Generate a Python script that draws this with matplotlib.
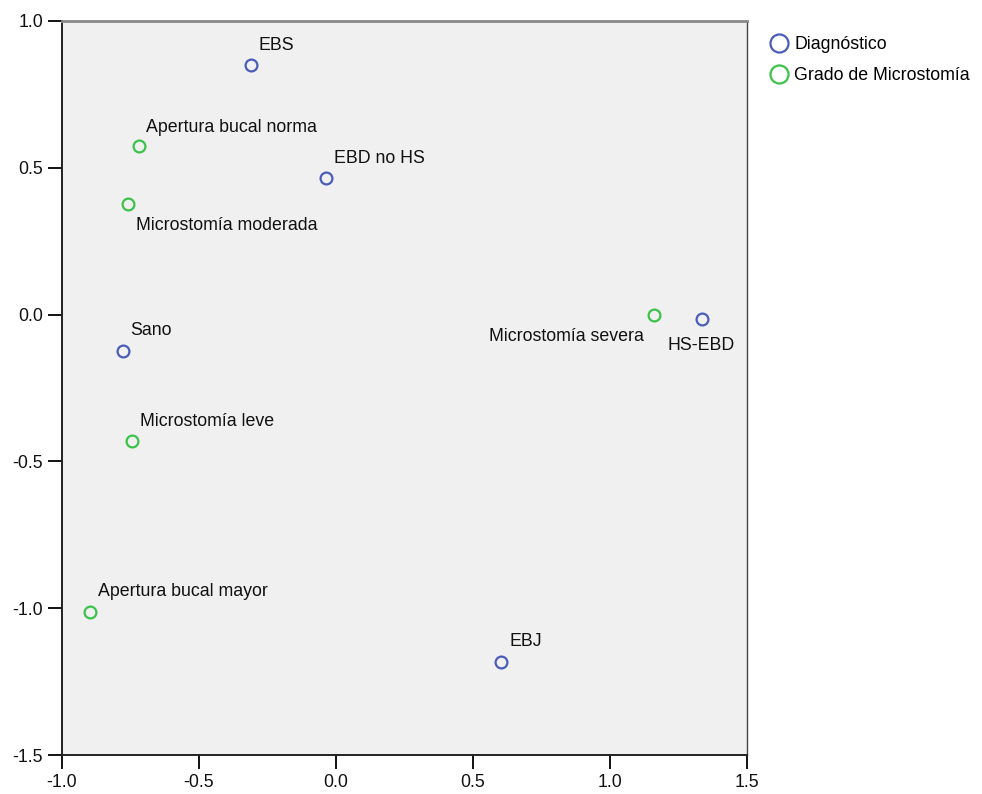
import matplotlib
matplotlib.use("Agg")
import matplotlib.pyplot as plt
from matplotlib.lines import Line2D

plt.rcParams['font.family'] = ['Liberation Sans', 'DejaVu Sans']

# Diagnóstico
diag_labels = ["EBS", "EBD no HS", "Sano", "EBJ", "HS-EBD"]
diag_x = [-0.310, -0.036, -0.777, 0.602, 1.336]
diag_y = [0.850, 0.465, -0.124, -1.183, -0.015]

# Grado de Microstomía
micro_labels = ["Apertura bucal norma", "Microstomía moderada", "Microstomía leve",
                "Apertura bucal mayor", "Microstomía severa"]
micro_x = [-0.719, -0.759, -0.745, -0.898, 1.161]
micro_y = [0.574, 0.377, -0.431, -1.013, -0.001]

# label offsets in pixels (dx, dy up) and alignment
offsets = {
    "EBS": (7, 20, 'left'),
    "EBD no HS": (8, 20, 'left'),
    "Sano": (7, 20, 'left'),
    "EBJ": (9, 20, 'left'),
    "HS-EBD": (-1, -27, 'center'),
    "Apertura bucal norma": (7, 19, 'left'),
    "Microstomía moderada": (8, -22, 'left'),
    "Microstomía leve": (8, 20, 'left'),
    "Apertura bucal mayor": (8, 21, 'left'),
    "Microstomía severa": (-10, -22, 'right'),
}

blue = '#4a5cb8'
green = '#3cc24a'
fs = 12.8

fig = plt.figure(figsize=(9.82, 7.94), dpi=100)
ax = fig.add_axes([0.0631, 0.0491, 0.6976, 0.9245])
ax.set_facecolor('#f0f0f0')

ax.plot(diag_x, diag_y, 'o', ls='none', mfc='none', mec=blue, ms=8.5, mew=1.6)
ax.plot(micro_x, micro_y, 'o', ls='none', mfc='none', mec=green, ms=8.5, mew=1.6)

for lab, x, y in list(zip(diag_labels, diag_x, diag_y)) + list(zip(micro_labels, micro_x, micro_y)):
    dx, dy, ha = offsets[lab]
    ax.annotate(lab, (x, y), xytext=(dx * 0.72, dy * 0.72), textcoords='offset points',
                ha=ha, va='center', fontsize=fs, color='#111111')

ax.set_xlim(-1.0, 1.5)
ax.set_ylim(-1.5, 1.0)
ax.set_xticks([-1.0, -0.5, 0.0, 0.5, 1.0, 1.5])
ax.set_yticks([-1.5, -1.0, -0.5, 0.0, 0.5, 1.0])
ax.set_xticklabels(['-1.0', '-0.5', '0.0', '0.5', '1.0', '1.5'])
ax.set_yticklabels(['-1.5', '-1.0', '-0.5', '0.0', '0.5', '1.0'])
ax.tick_params(direction='out', length=10, width=1.4, labelsize=fs, colors='#111111', pad=3.5)

ax.spines['left'].set_color('#222222')
ax.spines['left'].set_linewidth(1.4)
ax.spines['bottom'].set_color('#222222')
ax.spines['bottom'].set_linewidth(1.4)
ax.spines['top'].set_color('#888888')
ax.spines['top'].set_linewidth(2)
ax.spines['right'].set_color('#444444')
ax.spines['right'].set_linewidth(1)

handles = [
    Line2D([], [], marker='o', ls='none', mfc='none', mec=blue, ms=13, mew=1.6, label='Diagnóstico'),
    Line2D([], [], marker='o', ls='none', mfc='none', mec=green, ms=13, mew=1.6, label='Grado de Microstomía'),
]
fig.legend(handles=handles, loc='upper left', bbox_to_anchor=(0.777, 0.963), frameon=False,
           fontsize=fs, handlelength=1.0, handletextpad=0.35, labelspacing=0.78, borderaxespad=0)

fig.savefig('out.png', dpi=100)
